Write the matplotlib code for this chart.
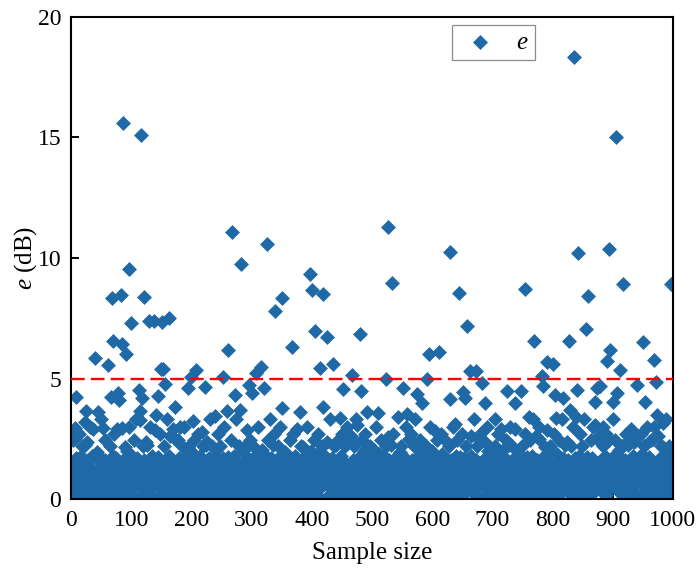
"""
Scatter of the error e (dB) over 1000 samples, with a 5 dB threshold line.
"""

import numpy as np
import matplotlib
matplotlib.use("Agg")
import matplotlib.pyplot as plt

OUTPUT_FILE = "out.png"
POINT_COLOR = "#1f69a6"
LIMIT_COLOR = "#ff0000"
LIMIT_DB = 5
FONT = "Liberation Serif"

# error e (dB) for samples 1..1000, twenty samples per row
e_db = [
    0.8, 1.5, 0.15, 2.45, 1.1, 0.5, 2.93, 4.24, 1.7, 2.79, 0.05, 1.3, 0.9, 2.7, 0.6, 1.8, 0.3, 1.2, 2.2, 0.7,
    1.4, 0.15, 3.21, 2.25, 3.66, 0.8, 2.35, 0.5, 1.6, 1.0, 0.1, 3.0, 1.3, 0.7, 1.8, 0.3, 2.9, 1.1, 0.6, 5.84,
    0.9, 1.7, 0.05, 1.95, 3.62, 1.2, 0.5, 1.75, 0.8, 3.3, 1.4, 0.15, 1.1, 2.93, 0.6, 1.6, 2.45, 0.3, 1.3, 0.9,
    5.55, 1.0, 0.3, 2.2, 1.5, 4.24, 0.7, 8.35, 1.8, 6.57, 0.15, 2.7, 1.2, 0.6, 1.7, 0.9, 2.9, 4.38, 0.5, 4.1,
    1.3, 0.05, 8.46, 6.44, 2.93, 15.6, 1.6, 0.8, 2.15, 1.0, 6.0, 0.3, 2.0, 1.2, 0.6, 3.0, 9.54, 1.5, 0.7, 7.29,
    0.9, 1.8, 0.15, 2.45, 1.4, 0.6, 1.1, 3.3, 0.05, 1.7, 0.8, 1.3, 4.52, 3.65, 3.28, 0.5, 15.1, 4.18, 2.2, 1.0,
    1.6, 8.4, 0.3, 1.2, 2.35, 0.7, 2.25, 0.15, 1.4, 7.4, 0.9, 3.0, 1.1, 0.5, 1.8, 0.05, 1.3, 7.4, 0.8, 2.86,
    1.2, 3.5, 0.6, 4.28, 1.75, 0.15, 1.5, 2.7, 5.4, 0.8, 7.36, 1.1, 5.38, 0.3, 2.2, 4.76, 1.6, 0.7, 1.3, 3.3,
    0.5, 1.8, 7.5, 1.0, 2.6, 0.15, 1.4, 0.8, 2.9, 1.2, 0.6, 2.5, 3.8, 0.05, 1.5, 0.9, 2.45, 1.1, 0.3, 1.7,
    3.0, 0.7, 1.3, 2.2, 0.3, 1.6, 0.9, 3.0, 1.1, 0.15, 1.8, 0.6, 1.4, 2.15, 4.61, 0.8, 1.2, 0.5, 2.0, 5.07,
    1.0, 0.3, 3.25, 1.7, 2.45, 0.8, 1.3, 5.37, 0.05, 1.5, 2.7, 0.6, 1.1, 1.8, 0.9, 0.15, 2.79, 1.4, 0.7, 2.2,
    1.2, 4.64, 0.5, 2.25, 0.9, 2.35, 0.15, 1.4, 1.7, 0.7, 3.3, 1.0, 0.3, 1.6, 2.2, 0.8, 1.3, 0.05, 3.45, 1.1,
    1.8, 0.6, 1.2, 2.7, 0.3, 1.5, 0.9, 2.2, 0.05, 1.3, 0.7, 1.7, 5.05, 1.0, 3.0, 0.5, 1.4, 0.8, 3.67, 1.75,
    6.2, 0.15, 1.6, 1.1, 2.45, 0.6, 11.09, 1.4, 0.9, 1.8, 0.3, 4.3, 1.2, 3.3, 0.7, 1.5, 0.05, 1.0, 2.2, 0.8,
    3.69, 9.75, 1.3, 0.5, 2.0, 1.0, 2.15, 0.15, 1.6, 0.8, 1.2, 2.86, 0.6, 1.7, 4.73, 0.3, 2.45, 1.1, 0.9, 4.4,
    1.5, 0.7, 2.2, 1.2, 0.15, 1.8, 0.9, 5.23, 1.4, 3.0, 0.5, 1.1, 1.7, 0.05, 5.49, 1.3, 2.05, 0.6, 1.0, 1.85,
    4.59, 0.8, 1.6, 0.3, 10.57, 1.2, 2.45, 0.6, 1.4, 0.9, 3.3, 0.15, 1.7, 1.1, 0.5, 2.25, 2.7, 0.7, 7.8, 1.3,
    0.9, 1.5, 0.05, 2.2, 1.1, 0.6, 1.8, 3.0, 0.3, 3.76, 8.33, 1.3, 0.8, 1.6, 1.95, 0.5, 1.0, 1.75, 0.15, 1.4,
    1.7, 0.6, 2.45, 1.2, 0.3, 1.5, 6.3, 0.9, 2.7, 1.0, 0.15, 1.8, 1.3, 0.7, 2.9, 0.5, 1.6, 1.1, 0.05, 3.62,
    1.3, 2.2, 0.5, 1.6, 0.9, 2.15, 0.15, 1.4, 1.8, 0.7, 1.1, 3.0, 0.3, 1.7, 0.8, 1.2, 9.34, 0.6, 2.0, 1.0,
    8.67, 0.3, 1.5, 2.45, 6.98, 0.8, 1.2, 1.85, 0.15, 1.6, 2.7, 0.6, 1.0, 5.44, 1.4, 0.5, 2.2, 3.83, 8.49, 1.1,
    0.7, 1.8, 0.05, 1.3, 6.71, 2.35, 0.9, 1.5, 0.5, 3.3, 1.1, 0.15, 1.7, 1.0, 5.6, 0.6, 2.2, 1.4, 0.8, 2.25,
    1.2, 0.3, 2.45, 1.6, 0.7, 1.0, 3.35, 0.15, 1.8, 2.7, 0.9, 4.57, 1.3, 0.5, 2.2, 1.5, 0.05, 1.1, 3.0, 0.8,
    1.4, 0.6, 2.5, 0.15, 2.6, 1.1, 5.14, 0.8, 1.6, 2.2, 0.3, 1.3, 0.9, 3.3, 3.07, 0.5, 1.7, 1.0, 0.05, 6.85,
    4.5, 1.2, 0.7, 2.45, 1.5, 0.15, 2.0, 0.9, 2.7, 0.5, 3.62, 1.4, 0.8, 1.8, 0.05, 1.1, 2.2, 0.6, 1.6, 1.0,
    0.3, 1.7, 2.05, 0.9, 1.3, 0.6, 3.0, 1.0, 0.15, 3.58, 1.5, 1.85, 0.7, 1.2, 2.45, 0.5, 1.6, 0.05, 1.1, 1.8,
    1.3, 0.8, 2.2, 4.98, 0.3, 11.3, 2.59, 1.6, 1.0, 0.15, 2.25, 1.2, 0.6, 8.95, 2.7, 0.9, 1.4, 0.5, 1.7, 1.1,
    0.7, 1.8, 1.2, 3.42, 0.15, 1.95, 1.5, 0.9, 2.2, 0.5, 1.3, 4.61, 1.0, 0.05, 1.7, 3.0, 0.6, 3.52, 1.4, 0.8,
    2.5, 0.3, 1.1, 2.7, 0.8, 1.6, 0.15, 1.3, 2.2, 0.6, 1.0, 3.3, 0.5, 4.34, 1.5, 0.9, 1.8, 0.05, 1.2, 2.45,
    0.6, 1.4, 3.97, 0.9, 2.15, 1.1, 0.15, 1.7, 0.5, 2.2, 5.0, 1.2, 0.8, 1.6, 6.02, 0.3, 3.0, 1.0, 2.0, 0.7,
    1.3, 0.5, 1.8, 2.82, 0.9, 1.5, 0.05, 2.45, 1.1, 0.7, 1.6, 6.12, 0.3, 1.2, 2.7, 0.8, 1.85, 0.6, 1.0, 1.4,
    0.15, 1.7, 1.1, 2.35, 0.6, 1.4, 0.9, 2.2, 4.14, 10.24, 0.5, 1.6, 1.2, 0.05, 3.0, 1.0, 0.7, 3.1, 1.8, 1.3,
    0.8, 2.45, 1.5, 8.53, 0.3, 1.75, 1.1, 0.6, 2.7, 1.3, 4.45, 0.15, 1.7, 0.9, 4.18, 2.2, 0.5, 7.18, 1.2, 1.6,
    1.0, 5.3, 0.7, 1.8, 2.6, 0.3, 1.4, 0.9, 3.3, 1.2, 0.15, 1.6, 5.3, 2.2, 0.6, 1.1, 2.5, 0.5, 2.7, 1.3,
    0.9, 4.8, 1.5, 0.05, 2.45, 1.0, 1.7, 3.97, 0.6, 1.3, 3.0, 0.8, 2.0, 0.3, 1.2, 2.15, 0.7, 1.6, 1.1, 0.15,
    1.8, 0.5, 1.2, 2.2, 3.3, 0.8, 1.5, 0.15, 2.7, 1.1, 0.6, 1.85, 1.4, 2.9, 0.9, 0.05, 1.7, 2.05, 1.0, 0.3,
    1.2, 2.45, 0.7, 4.5, 1.6, 0.15, 2.25, 1.0, 3.0, 0.5, 1.4, 0.8, 2.2, 1.3, 0.05, 1.7, 2.9, 3.97, 0.6, 1.1,
    1.5, 0.3, 1.95, 1.1, 0.8, 1.8, 4.5, 0.15, 1.3, 2.2, 0.6, 1.6, 0.9, 8.71, 2.7, 1.2, 0.5, 1.75, 1.0, 3.42,
    0.7, 1.4, 2.45, 0.15, 1.8, 1.0, 3.3, 0.6, 6.57, 1.3, 0.9, 2.6, 0.3, 1.6, 1.1, 0.05, 2.5, 3.0, 0.8, 1.5,
    1.2, 5.12, 0.5, 4.7, 1.8, 0.9, 2.15, 1.4, 0.15, 5.7, 2.86, 1.0, 1.6, 0.7, 2.2, 0.3, 1.3, 2.0, 0.6, 5.6,
    1.1, 2.7, 0.6, 4.32, 1.5, 3.35, 0.8, 1.85, 0.05, 1.3, 2.45, 0.9, 1.6, 0.3, 3.3, 1.0, 1.7, 4.18, 0.5, 1.2,
    2.25, 0.7, 1.3, 2.35, 0.3, 1.6, 1.0, 6.55, 3.69, 0.15, 2.2, 1.4, 0.8, 3.0, 1.1, 18.35, 0.6, 1.7, 3.42, 4.52,
    1.2, 10.2, 0.5, 1.8, 2.7, 0.9, 1.4, 0.15, 2.2, 1.1, 0.7, 1.6, 3.3, 0.3, 7.04, 1.3, 0.8, 1.75, 8.44, 1.0,
    0.6, 1.5, 2.45, 0.15, 1.7, 1.0, 3.0, 0.8, 1.3, 4.04, 3.07, 0.5, 4.59, 2.5, 1.2, 0.7, 2.6, 1.4, 4.7, 0.9,
    1.6, 0.3, 2.2, 3.0, 1.1, 0.7, 1.8, 2.7, 0.15, 5.72, 1.4, 0.9, 2.45, 10.37, 1.2, 6.2, 0.5, 1.7, 1.0, 3.3,
    4.04, 1.3, 0.6, 2.45, 15.03, 1.85, 4.38, 0.8, 1.5, 2.05, 0.3, 5.37, 1.1, 1.7, 0.15, 2.2, 8.92, 1.2, 0.7, 1.6,
    1.0, 2.7, 0.5, 1.4, 2.25, 0.8, 2.45, 0.15, 1.6, 1.2, 2.9, 0.6, 1.8, 1.0, 0.3, 2.35, 1.3, 0.7, 1.5, 4.72,
    0.9, 2.6, 1.4, 0.05, 1.8, 1.1, 2.7, 0.6, 1.5, 0.8, 6.53, 2.2, 4.04, 1.3, 0.3, 1.7, 3.0, 1.0, 0.5, 1.75,
    1.2, 0.7, 2.45, 1.6, 0.15, 2.5, 1.0, 3.0, 5.77, 0.5, 4.87, 1.4, 3.5, 0.8, 2.6, 1.1, 0.3, 1.7, 1.3, 2.2,
    0.6, 1.5, 2.15, 3.14, 0.9, 1.8, 0.15, 1.2, 3.3, 1.0, 0.5, 1.6, 2.2, 0.8, 1.3, 0.3, 8.92, 2.0, 1.1, 1.7,
]
sample = np.arange(1, len(e_db) + 1)

x_ticks = [0, 100, 200, 300, 400, 500, 600, 700, 800, 900, 1000]
y_ticks = [0, 5, 10, 15, 20]


def make_chart():
    plt.rcParams["font.family"] = [FONT, "DejaVu Serif"]
    plt.rcParams["mathtext.fontset"] = "custom"
    plt.rcParams["mathtext.it"] = FONT + ":italic"
    plt.rcParams["mathtext.rm"] = FONT

    fig = plt.figure(figsize=(7.0, 5.72), dpi=100)
    ax = fig.add_axes([0.1014, 0.1276, 0.86, 0.8427])

    ax.scatter(sample, e_db, marker="D", s=58, color=POINT_COLOR,
               linewidths=0, label="$e$", zorder=2)
    ax.axhline(LIMIT_DB, color=LIMIT_COLOR, linewidth=1.7,
               linestyle=(0, (5.8, 2.6)), zorder=3)

    ax.set_xlim(0, 1000)
    ax.set_ylim(0, 20)
    ax.set_xticks(x_ticks)
    ax.set_yticks(y_ticks)
    ax.tick_params(direction="in", length=6, width=1.4, labelsize=17,
                   top=False, right=False)
    ax.tick_params(axis="x", pad=8)
    ax.tick_params(axis="y", pad=7)
    for side in ax.spines.values():
        side.set_linewidth(1.5)

    ax.set_xlabel("Sample size", fontsize=18, labelpad=8)
    ax.set_ylabel("$e$ (dB)", fontsize=18, labelpad=-1)

    leg = ax.legend(loc="upper left", bbox_to_anchor=(0.633, 0.983),
                    borderaxespad=0, fontsize=18, frameon=True, fancybox=False,
                    handletextpad=0.6, borderpad=0.25, handlelength=1.7,
                    scatterpoints=1)
    leg.get_frame().set_edgecolor("#707070")
    leg.get_frame().set_linewidth(0.9)

    return fig


def main():
    fig = make_chart()
    fig.savefig(OUTPUT_FILE, dpi=100)
    plt.close(fig)


if __name__ == "__main__":
    main()
